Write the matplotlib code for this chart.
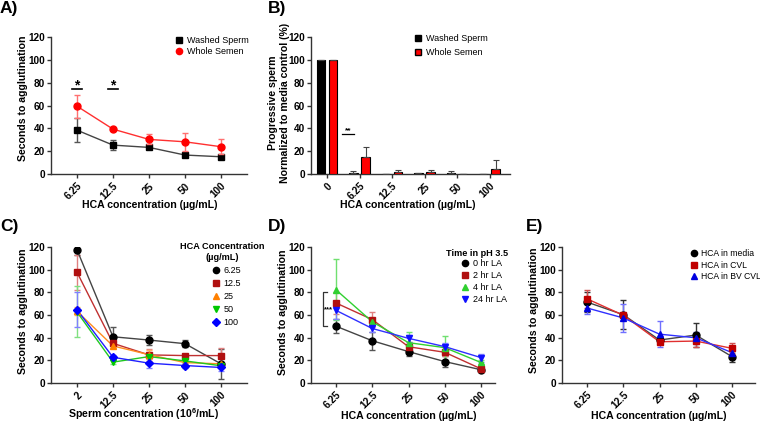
import matplotlib
matplotlib.use("Agg")
import matplotlib.pyplot as plt
from matplotlib.lines import Line2D
from matplotlib.patches import Patch
import numpy as np

plt.rcParams['font.family'] = ['Liberation Sans', 'DejaVu Sans']
plt.rcParams['mathtext.fontset'] = 'custom'
plt.rcParams['mathtext.bf'] = 'Liberation Sans:bold'
plt.rcParams['mathtext.rm'] = 'Liberation Sans:bold'

W, H = 760, 425

# ---------------- data ----------------
hca_cats = ['6.25', '12.5', '25', '50', '100']

# Panel A
a_washed = [38.4, 25.3, 23.3, 16.6, 15.1]
a_washed_err = [10.7, 4.7, 1.5, 1.0, 1.0]
a_whole = [59.4, 39.3, 30.3, 28.2, 23.9]
a_whole_err = [10.2, 1.0, 4.3, 8.0, 6.4]

# Panel B
b_cats = ['0', '6.25', '12.5', '25', '50', '100']
b_washed = [100, 1.2, 0, 0.5, 0.5, 0]
b_washed_err = [0, 1.4, 0, 0.2, 2.0, 0]
b_whole = [100, 15.2, 2.0, 1.5, 0, 4.7]
b_whole_err = [0, 8.8, 1.5, 2.0, 0, 7.6]

# Panel C
sperm_cats = ['2', '12.5', '25', '50', '100']
c_labels = ['6.25', '12.5', '25', '50', '100']
c_vals = [
    [117.5, 40.8, 37.9, 34.7, 16.9],
    [97.7, 35.0, 24.8, 24.2, 24.2],
    [63.3, 32.7, 25.0, 18.0, 16.9],
    [62.7, 18.4, 23.3, 19.5, 15.2],
    [64.7, 22.7, 17.5, 15.4, 13.7],
]
c_errs = [
    [4.5, 8.2, 4.7, 3.0, 13.0],
    [15.5, 4.0, 5.0, 1.0, 6.4],
    [3.5, 2.0, 4.0, 1.0, 1.0],
    [22.5, 2.0, 1.5, 1.0, 1.0],
    [15.3, 2.0, 4.5, 2.0, 3.0],
]

# Panel D
d_labels = ['0 hr LA', '2 hr LA', '4 hr LA', '24 hr LA']
d_vals = [
    [50.1, 37.3, 27.7, 18.9, 11.7],
    [70.6, 56.0, 32.0, 27.1, 12.5],
    [82.2, 54.0, 35.6, 31.2, 18.1],
    [64.1, 48.1, 39.4, 32.1, 22.4],
]
d_errs = [
    [6.3, 8.0, 4.0, 4.5, 1.5],
    [10.0, 6.4, 4.0, 3.0, 1.0],
    [27.0, 2.0, 9.0, 10.5, 2.0],
    [8.0, 3.0, 3.0, 3.0, 3.5],
]

# Panel E
e_labels = ['HCA in media', 'HCA in CVL', 'HCA in BV CVL']
e_vals = [
    [71.4, 60.3, 37.9, 42.3, 23.3],
    [74.3, 59.8, 36.4, 37.0, 30.6],
    [66.2, 57.4, 43.1, 39.9, 26.8],
]
e_errs = [
    [9.0, 12.5, 3.0, 10.7, 4.5],
    [8.0, 1.0, 2.0, 5.5, 4.5],
    [5.0, 12.4, 11.7, 5.5, 3.0],
]

# ---------------- helpers ----------------
fig = plt.figure(figsize=(W / 100, H / 100), dpi=100)

TICK_FS = 7.2
LAB_FS = 7.6
SPINE = '#333333'


def add_ax(l, r, t, b):
    return fig.add_axes([l / W, 1 - b / H, (r - l) / W, (b - t) / H])


def style(ax, cats, xlim):
    ax.set_ylim(0, 120)
    ax.set_yticks(np.arange(0, 121, 20))
    ax.set_xlim(*xlim)
    ax.set_xticks(np.arange(len(cats)))
    ax.set_xticklabels(cats, rotation=45, ha='right', rotation_mode='anchor',
                       fontweight='bold', fontsize=TICK_FS)
    for lab in ax.get_yticklabels():
        lab.set_fontweight('bold')
        lab.set_fontsize(TICK_FS)
    for s in ['top', 'right']:
        ax.spines[s].set_visible(False)
    for s in ['left', 'bottom']:
        ax.spines[s].set_color(SPINE)
        ax.spines[s].set_linewidth(1.0)
    ax.tick_params(axis='both', direction='out', length=3, width=1,
                   color=SPINE, pad=1.2)
    ax.tick_params(axis='x', pad=2)


def ylabel_at(ax, text, x_px, y_px, l, t, b, r):
    ax.set_ylabel(text, fontsize=LAB_FS, fontweight='bold', va='center',
                  ha='center', linespacing=1.15)
    ax.yaxis.set_label_coords((x_px - l) / (r - l), (b - y_px) / (b - t))


def xlabel_at(ax, text, x_px, y_px, l, t, b, r):
    ax.set_xlabel(text, fontsize=LAB_FS, fontweight='bold', va='center', ha='center')
    ax.xaxis.set_label_coords((x_px - l) / (r - l), (b - y_px) / (b - t))


def series(ax, x, y, e, color, lcolor, ecolor, marker, ms, zo):
    ax.errorbar(x, y, yerr=e, fmt='none', ecolor=ecolor, elinewidth=1,
                capsize=2.5, capthick=1, zorder=zo)
    ax.plot(x, y, color=lcolor, lw=1, zorder=zo + 0.1)
    ax.plot(x, y, linestyle='none', marker=marker, ms=ms, color=color,
            mec=color, zorder=zo + 0.2)


def legend_at(ax, handles, labels, x_px, y_px, fs=6.5,
              spacing=0.25, hl=1.0, htp=0.4):
    leg = ax.legend(handles, labels, loc='upper left',
                    bbox_to_anchor=(x_px / W, 1 - y_px / H),
                    bbox_transform=fig.transFigure, frameon=False,
                    fontsize=fs, borderpad=0, borderaxespad=0,
                    labelspacing=spacing, handlelength=hl, handletextpad=htp)
    return leg


def fig_text(text, x_px, y_px, **kw):
    fig.text(x_px / W, 1 - y_px / H, text, **kw)


def panel_label(text, x_px, y_px):
    fig_text(text, x_px, y_px, fontsize=12.5, fontweight='bold',
             ha='left', va='center')


xs = np.arange(5)
MS = 5.0

# ---------------- Panel A ----------------
l, r, t, b = 51, 247, 37, 174
axA = add_ax(l, r, t, b)
style(axA, hca_cats, ((51 - 77) / 36, (247 - 77) / 36))
series(axA, xs, a_washed, a_washed_err, 'black', '#444444', '#555555', 's', MS, 3)
series(axA, xs, a_whole, a_whole_err, '#ff0000', '#ff3030', '#ff7070', 'o', MS, 4)
for xi in [0, 1]:
    axA.plot([xi - 0.14, xi + 0.14], [74.2, 74.2], color='black', lw=1.2)
    axA.text(xi, 77.5, '*', ha='center', va='center', fontsize=10, fontweight='bold')
ylabel_at(axA, 'Seconds to agglutination', 23, 98, l, t, b, r)
xlabel_at(axA, 'HCA concentration (µg/mL)', 150, 205, l, t, b, r)
legend_at(axA,
          [Line2D([], [], ls='none', marker='s', ms=4.5, color='black'),
           Line2D([], [], ls='none', marker='o', ms=4.5, color='#ff0000')],
          ['Washed Sperm', 'Whole Semen'], 174, 36)
panel_label('A)', 0, 9)

# ---------------- Panel B ----------------
l, r, t, b = 311, 510, 37, 174
axB = add_ax(l, r, t, b)
style(axB, b_cats, ((311 - 327) / 32.5, (510 - 327) / 32.5))
xb = np.arange(len(b_cats))
off, bw = 0.185, 0.255
axB.bar(xb - off, b_washed, width=bw, color='black', edgecolor='black', lw=0.8,
        yerr=[np.zeros(len(b_washed)), b_washed_err], ecolor='#444444',
        error_kw=dict(elinewidth=0.8, capsize=2, capthick=0.8), zorder=3)
axB.bar(xb + off, b_whole, width=bw, color='#ff0000', edgecolor='black', lw=0.8,
        yerr=[np.zeros(len(b_whole)), b_whole_err], ecolor='#444444',
        error_kw=dict(elinewidth=0.8, capsize=2, capthick=0.8), zorder=3)
axB.plot([0.45, 0.84], [35, 35], color='black', lw=0.9)
axB.text(0.645, 37.8, '**', ha='center', va='center', fontsize=6, fontweight='bold')
ylabel_at(axB, 'Progressive sperm\nNormalized to media control (%)', 279, 103, l, t, b, r)
xlabel_at(axB, 'HCA concentration (µg/mL)', 408, 205, l, t, b, r)
legend_at(axB,
          [Patch(facecolor='black', edgecolor='black'),
           Patch(facecolor='#ff0000', edgecolor='black')],
          ['Washed Sperm', 'Whole Semen'], 415, 34, spacing=0.55, hl=0.7, htp=0.5)
panel_label('B)', 268, 9)

# ---------------- Panel C ----------------
l, r, t, b = 51, 247, 247, 383
axC = add_ax(l, r, t, b)
style(axC, sperm_cats, ((51 - 77) / 36, (247 - 77) / 36))
c_cols = ['black', '#b01010', '#ff8000', '#00c800', '#0000ff']
c_lcols = ['#444444', '#c03030', '#ff8c20', '#20c820', '#2020ff']
c_ecols = ['#555555', '#e08080', '#ffb060', '#80e080', '#8080ff']
c_marks = ['o', 's', '^', 'v', 'D']
c_ms = [MS, MS, 4.6, 4.6, 3.8]
for i in range(5):
    series(axC, xs, c_vals[i], c_errs[i], c_cols[i], c_lcols[i], c_ecols[i],
           c_marks[i], c_ms[i], 3 + i * 0.01)
ylabel_at(axC, 'Seconds to agglutination', 23, 311, l, t, b, r)
xlabel_at(axC, 'Sperm concentration (10$^{\\mathbf{6}}$/mL)', 144, 414, l, t, b, r)
fig_text('HCA Concentration\n(µg/mL)', 222, 252, fontsize=6.6, fontweight='bold',
         ha='center', va='center', linespacing=1.35)
legend_at(axC,
          [Line2D([], [], ls='none', marker=c_marks[i], ms=4.5, color=c_cols[i])
           for i in range(5)],
          c_labels, 211, 266, spacing=0.45)
panel_label('C)', 0, 227)

# ---------------- Panel D ----------------
l, r, t, b = 311, 495, 247, 383
axD = add_ax(l, r, t, b)
style(axD, hca_cats, ((311 - 336) / 36.25, (495 - 336) / 36.25))
d_cols = ['black', '#b01010', '#30d030', '#1010ff']
d_lcols = ['#444444', '#c03030', '#30d030', '#3030ff']
d_ecols = ['#555555', '#e08080', '#70e070', '#8080ff']
d_marks = ['o', 's', '^', 'v']
d_ms = [MS, MS, 4.6, 4.6]
for i in range(4):
    series(axD, xs, d_vals[i], d_errs[i], d_cols[i], d_lcols[i], d_ecols[i],
           d_marks[i], d_ms[i], 3 + i * 0.01)
axD.plot([-0.24, -0.37, -0.37, -0.24], [80, 80, 50.5, 50.5], color='#333333', lw=0.9)
axD.text(-0.22, 64.5, '***', ha='center', va='center', fontsize=5.5, fontweight='bold')
ylabel_at(axD, 'Seconds to agglutination', 283, 312, l, t, b, r)
xlabel_at(axD, 'HCA concentration (µg/mL)', 409, 416, l, t, b, r)
fig_text('Time in pH 3.5', 477, 253, fontsize=6.6, fontweight='bold',
         ha='center', va='center')
legend_at(axD,
          [Line2D([], [], ls='none', marker=d_marks[i], ms=4.5, color=d_cols[i])
           for i in range(4)],
          d_labels, 460, 259, spacing=0.35)
panel_label('D)', 268, 227)

# ---------------- Panel E ----------------
l, r, t, b = 562, 755, 247, 383
axE = add_ax(l, r, t, b)
style(axE, hca_cats, ((562 - 587) / 36.25, (755 - 587) / 36.25))
e_cols = ['black', '#c00000', '#0000e0']
e_lcols = ['#444444', '#e03030', '#3030ff']
e_ecols = ['#333333', '#d05050', '#7070ff']
e_marks = ['o', 's', '^']
e_ms = [MS, MS, 4.6]
for i in range(3):
    series(axE, xs, e_vals[i], e_errs[i], e_cols[i], e_lcols[i], e_ecols[i],
           e_marks[i], e_ms[i], 3 + i * 0.01)
ylabel_at(axE, 'Seconds to agglutination', 534, 310, l, t, b, r)
xlabel_at(axE, 'HCA concentration (µg/mL)', 659, 416, l, t, b, r)
legend_at(axE,
          [Line2D([], [], ls='none', marker=e_marks[i], ms=4.5, color=e_cols[i])
           for i in range(3)],
          e_labels, 690, 249, fs=6.2, spacing=0.3, hl=0.9, htp=0.35)
panel_label('E)', 526, 227)

fig.savefig('out.png', dpi=100)
